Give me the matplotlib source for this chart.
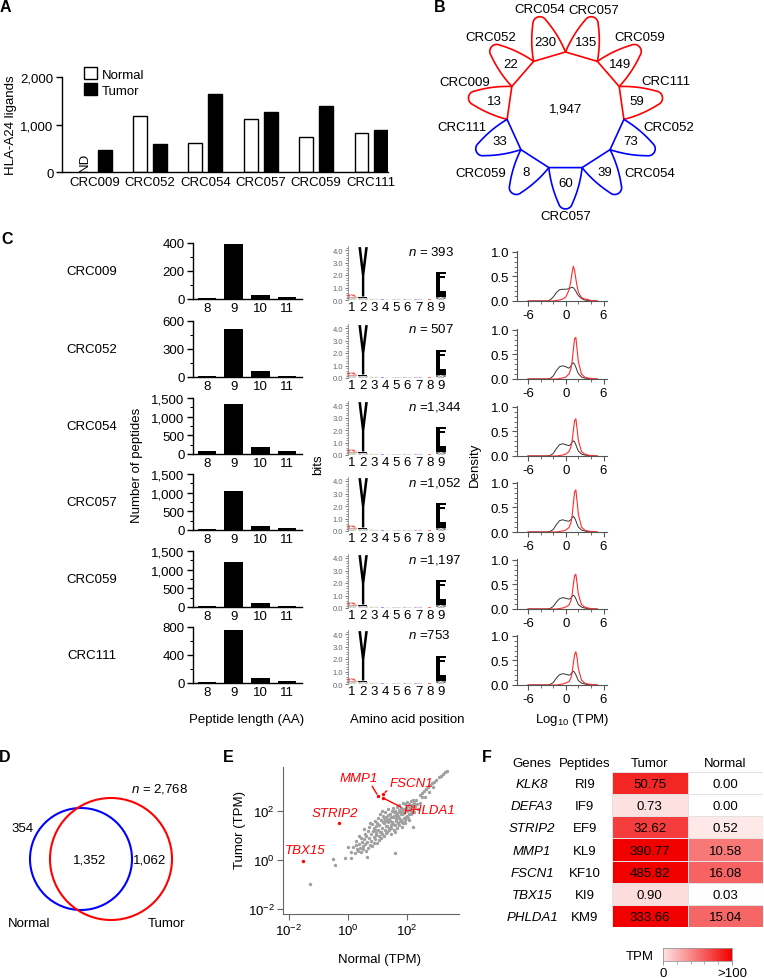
import numpy as np
import matplotlib
matplotlib.use('Agg')
import matplotlib.pyplot as plt
from matplotlib.patches import Circle, PathPatch, Patch, Polygon
from matplotlib.textpath import TextPath
from matplotlib.font_manager import FontProperties
from matplotlib.transforms import Affine2D
from matplotlib.ticker import AutoMinorLocator, FixedLocator, MultipleLocator, NullLocator
from matplotlib.colors import LinearSegmentedColormap, FuncNorm, Normalize

plt.rcParams.update({
    'font.family': ['Liberation Sans', 'DejaVu Sans'],
    'font.size': 9.5,
    'axes.unicode_minus': False,
    'mathtext.fontset': 'custom',
    'mathtext.rm': 'Liberation Sans',
    'mathtext.it': 'Liberation Sans:italic',
    'axes.linewidth': 1.0,
    'xtick.major.width': 1.0, 'ytick.major.width': 1.0,
    'xtick.minor.width': 0.8, 'ytick.minor.width': 0.8,
    'xtick.major.pad': 2, 'ytick.major.pad': 2,
})

# ---------------- data ----------------
samples = ['CRC009', 'CRC052', 'CRC054', 'CRC057', 'CRC059', 'CRC111']
ligands_normal = [np.nan, 1186, 610, 1116, 730, 821]   # CRC009 normal: ND
ligands_tumor = [463, 589, 1642, 1256, 1396, 891]

petal_tumor_names = ['CRC009', 'CRC052', 'CRC054', 'CRC057', 'CRC059', 'CRC111']
petal_tumor_counts = [13, 22, 230, 135, 149, 59]
petal_normal_names = ['CRC052', 'CRC054', 'CRC057', 'CRC059', 'CRC111']
petal_normal_counts = [73, 39, 60, 8, 33]
core_count = '1,947'

pep_lengths = [8, 9, 10, 11]
len_crc009 = [8, 395, 31, 17]
len_crc052 = [11, 510, 61, 11]
len_crc054 = [72, 1350, 180, 90]
len_crc057 = [30, 1052, 110, 50]
len_crc059 = [36, 1197, 116, 36]
len_crc111 = [19, 753, 71, 33]
len_counts = [len_crc009, len_crc052, len_crc054, len_crc057, len_crc059, len_crc111]
len_ymax = [400, 600, 1500, 1500, 1500, 800]
len_yticks = [[0, 200, 400], [0, 300, 600], [0, 500, 1000, 1500],
              [0, 500, 1000, 1500], [0, 500, 1000, 1500], [0, 400, 800]]
len_yticklabels = [['0', '200', '400'], ['0', '300', '600'],
                   ['0', '500', '1,000', '1,500'], ['0', '500', '1,000', '1,500'],
                   ['0', '500', '1,000', '1,500'], ['0', '400', '800']]
n_labels = ['$n$ = 393', '$n$ = 507', '$n$ =1,344', '$n$ =1,052', '$n$ =1,197', '$n$ =753']

# sequence logo stacks (bottom -> top): letter, bits, colour
logo_positions = list(range(1, 10))
logo_stacks = [
    [('A', 0.08, '#bbbbbb'), ('S', 0.1, '#99cc99'), ('I', 0.1, '#ee9999'), ('R', 0.15, '#ee4444')],
    [('W', 0.06, '#aaaaaa'), ('M', 0.08, '#999999'), ('F', 0.14, '#111111'), ('Y', 3.95, '#000000')],
    [('P', 0.03, '#aaaaaa'), ('V', 0.04, '#cccccc'), ('G', 0.03, '#99cc99')],
    [('D', 0.03, '#ff9999'), ('E', 0.04, '#9999ff')],
    [('A', 0.04, '#99cc99'), ('G', 0.04, '#bbbbbb')],
    [('P', 0.05, '#aaaaaa'), ('V', 0.04, '#ccccff')],
    [('R', 0.05, '#9999ff'), ('K', 0.04, '#ff9999')],
    [('T', 0.06, '#ee7777'), ('L', 0.06, '#aaaaaa')],
    [('V', 0.1, '#999999'), ('M', 0.12, '#444444'), ('I', 0.32, '#000000'),
     ('L', 0.85, '#000000'), ('F', 0.85, '#000000')],
]

dens_x = [-6, -3, -2.5, -2, -1.5, -1, -0.5, 0, 0.5, 0.8, 1.0, 1.2, 1.4, 1.6, 1.8, 2.0, 2.5, 3.0, 3.5, 4.0, 5.0]
dens_black = [
    [0, 0, 0.02, 0.08, 0.17, 0.23, 0.24, 0.24, 0.25, 0.27, 0.28, 0.27, 0.24, 0.20, 0.15, 0.11, 0.05, 0.02, 0.01, 0, 0],
    [0, 0, 0.01, 0.06, 0.17, 0.25, 0.27, 0.25, 0.22, 0.26, 0.31, 0.33, 0.30, 0.24, 0.17, 0.11, 0.04, 0.02, 0.01, 0, 0],
    [0, 0, 0.01, 0.05, 0.15, 0.23, 0.25, 0.23, 0.21, 0.24, 0.28, 0.31, 0.29, 0.23, 0.16, 0.10, 0.04, 0.02, 0.01, 0, 0],
    [0, 0, 0.01, 0.05, 0.15, 0.23, 0.25, 0.23, 0.22, 0.25, 0.29, 0.32, 0.29, 0.23, 0.16, 0.10, 0.04, 0.02, 0.01, 0, 0],
    [0, 0, 0.01, 0.05, 0.14, 0.21, 0.23, 0.22, 0.20, 0.22, 0.26, 0.28, 0.26, 0.21, 0.15, 0.09, 0.04, 0.02, 0.01, 0, 0],
    [0, 0, 0.01, 0.05, 0.14, 0.21, 0.23, 0.22, 0.20, 0.22, 0.26, 0.28, 0.26, 0.21, 0.15, 0.09, 0.04, 0.02, 0.01, 0, 0],
]
dens_red = [
    [0, 0, 0, 0, 0.01, 0.02, 0.04, 0.08, 0.22, 0.40, 0.58, 0.71, 0.62, 0.45, 0.30, 0.18, 0.07, 0.04, 0.03, 0.01, 0],
    [0, 0, 0, 0, 0, 0.01, 0.02, 0.04, 0.10, 0.20, 0.35, 0.60, 0.82, 0.85, 0.60, 0.35, 0.10, 0.04, 0.02, 0.01, 0],
    [0, 0, 0, 0, 0, 0.01, 0.02, 0.04, 0.09, 0.18, 0.30, 0.52, 0.72, 0.76, 0.55, 0.32, 0.09, 0.04, 0.02, 0.01, 0],
    [0, 0, 0, 0, 0, 0.01, 0.02, 0.04, 0.09, 0.18, 0.32, 0.58, 0.82, 0.86, 0.62, 0.36, 0.10, 0.04, 0.02, 0.01, 0],
    [0, 0, 0, 0, 0, 0.01, 0.02, 0.04, 0.08, 0.16, 0.28, 0.50, 0.68, 0.71, 0.52, 0.30, 0.09, 0.04, 0.02, 0.01, 0],
    [0, 0, 0, 0, 0, 0.01, 0.02, 0.04, 0.07, 0.14, 0.24, 0.44, 0.62, 0.68, 0.55, 0.33, 0.10, 0.04, 0.02, 0.01, 0],
]

venn_normal_only = '354'
venn_shared = '1,352'
venn_tumor_only = '1,062'
venn_total = '$n$ = 2,768'

# panel E: gray genes as (log10 normal TPM, log10 tumor TPM)
gray_points = [
    (0.12, 0.33), (0.18, 0.52), (0.24, 0.28), (0.27, 0.61), (0.31, 0.44), (0.29, 0.78),
    (0.34, 0.35), (0.37, 0.66), (0.41, 0.50), (0.43, 0.88), (0.46, 0.31), (0.48, 0.74), (0.39, 0.97), (0.50, 0.58),
    (0.52, 0.42), (0.54, 0.83), (0.57, 1.06), (0.59, 0.63), (0.61, 0.36), (0.63, 0.95), (0.66, 0.72),
    (0.68, 1.18), (0.69, 0.50), (0.56, 1.25),
    (0.71, 0.88), (0.73, 1.32), (0.75, 0.61), (0.77, 1.04), (0.79, 0.78), (0.81, 1.45), (0.83, 0.55),
    (0.85, 1.16), (0.87, 0.92), (0.89, 1.28), (0.74, 1.50), (0.88, 0.70),
    (0.91, 1.58), (0.93, 0.83), (0.95, 1.07), (0.97, 1.36), (0.99, 0.68), (1.01, 1.22), (1.03, 1.71),
    (1.05, 0.96), (1.07, 1.43), (1.09, 1.12), (0.92, 1.21), (1.04, 0.80), (1.08, 1.85), (0.96, 1.00), (1.00, 1.50),
    (1.11, 1.62), (1.13, 0.90), (1.15, 1.30), (1.17, 1.05), (1.19, 1.78), (1.21, 1.48), (1.23, 0.98),
    (1.25, 1.20), (1.27, 1.93), (1.29, 1.36), (1.12, 1.15), (1.18, 1.55), (1.24, 1.68), (1.28, 1.08),
    (1.16, 2.00), (1.26, 1.58),
    (1.31, 1.75), (1.33, 1.14), (1.35, 1.52), (1.37, 2.05), (1.39, 1.28), (1.41, 1.66), (1.43, 1.88),
    (1.45, 1.05), (1.47, 1.42), (1.49, 1.97), (1.32, 1.38), (1.36, 1.83), (1.40, 1.22), (1.44, 1.58),
    (1.48, 1.72), (1.34, 1.62), (1.46, 1.30),
    (1.51, 1.55), (1.53, 2.10), (1.55, 1.22), (1.57, 1.80), (1.59, 1.40), (1.61, 2.00), (1.63, 1.65),
    (1.65, 1.30), (1.67, 1.90), (1.69, 1.50), (1.52, 1.75), (1.56, 1.95), (1.60, 1.15), (1.64, 1.82),
    (1.68, 2.15), (1.54, 1.45), (1.62, 1.58), (1.66, 1.72),
    (1.71, 1.78), (1.73, 2.22), (1.75, 1.42), (1.77, 1.95), (1.79, 1.62), (1.81, 2.10), (1.83, 1.35),
    (1.85, 1.85), (1.87, 2.30), (1.89, 1.70), (1.72, 2.02), (1.76, 1.58), (1.80, 1.88), (1.84, 1.55),
    (1.88, 2.05), (1.74, 1.68), (1.82, 1.98), (1.86, 1.48),
    (1.91, 1.92), (1.93, 2.28), (1.95, 1.60), (1.97, 2.12), (1.99, 1.80), (2.01, 2.35), (2.03, 1.70),
    (2.05, 2.02), (2.07, 2.25), (2.09, 1.88), (1.92, 2.05), (1.96, 1.75), (2.00, 1.98), (2.04, 2.18),
    (2.08, 1.62), (1.94, 1.50),
    (2.11, 2.10), (2.13, 2.38), (2.15, 1.85), (2.17, 2.22), (2.19, 2.02), (2.21, 2.42), (2.23, 1.95),
    (2.26, 2.30), (2.29, 2.15), (2.32, 2.45), (2.35, 2.25), (2.38, 2.05), (2.14, 2.00), (2.24, 2.18),
    (2.45, 2.30), (2.50, 2.55), (2.20, 1.35),
    (2.45, 2.62), (2.52, 2.70), (2.58, 2.78), (2.65, 2.88), (2.72, 2.95), (2.78, 3.02), (2.85, 3.10),
    (2.92, 3.18), (3.00, 3.26), (3.08, 3.35), (3.15, 3.42), (3.22, 3.50), (3.30, 3.57), (3.37, 3.62),
    (2.60, 2.55), (2.75, 2.75), (2.90, 2.95),
    (-1.30, -0.99), (-0.44, -0.20), (-0.50, 0.02), (-0.10, 0.07), (0.09, 0.07), (0.66, 0.11),
    (0.01, 0.54), (1.60, 0.27),
]

genes = ['KLK8', 'DEFA3', 'STRIP2', 'MMP1', 'FSCN1', 'TBX15', 'PHLDA1']
peptides = ['RI9', 'IF9', 'EF9', 'KL9', 'KF10', 'KI9', 'KM9']
tpm_tumor = [50.75, 0.73, 32.62, 390.77, 485.82, 0.90, 333.66]
tpm_normal = [0.00, 0.00, 0.52, 10.58, 16.08, 0.03, 15.04]

# ---------------- layout helpers (pixel based) ----------------
W, H = 764, 979
fig = plt.figure(figsize=(W / 100, H / 100), dpi=100)


def add_ax(x0, y0, x1, y1):
    return fig.add_axes([x0 / W, 1 - y1 / H, (x1 - x0) / W, (y1 - y0) / H])


def ftext(x, y, s, **kw):
    kw.setdefault('ha', 'center')
    kw.setdefault('va', 'center')
    fig.text(x / W, 1 - y / H, s, **kw)


for lab, (x, y) in zip('ABCDEF', [(5, 8), (440, 8), (7, 240), (5, 758), (228, 758), (487, 757)]):
    ftext(x, y, lab, fontsize=11.5, fontweight='bold')

# ---------------- A ----------------
axA = add_ax(62, 78, 388, 173)
xa = np.arange(len(samples))
nrm = np.array(ligands_normal, dtype=float)
ok = ~np.isnan(nrm)
axA.bar(xa[ok] - 0.18, nrm[ok], 0.25, color='white', edgecolor='black', linewidth=1.0)
axA.bar(xa + 0.18, ligands_tumor, 0.25, color='black', edgecolor='black', linewidth=1.0)
axA.text(-0.18, 30, 'ND', rotation=90, ha='center', va='bottom', fontsize=9.5)
axA.set_xlim(-0.59, 5.3)
axA.set_ylim(0, 2000)
axA.set_yticks([0, 1000, 2000])
axA.set_yticklabels(['0', '1,000', '2,000'])
axA.set_xticks(xa)
axA.set_xticklabels(samples)
axA.tick_params(axis='x', length=0, pad=3)
axA.tick_params(axis='y', length=4)
for s in ('top', 'right'):
    axA.spines[s].set_visible(False)
axA.legend(handles=[Patch(facecolor='white', edgecolor='black', label='Normal'),
                    Patch(facecolor='black', edgecolor='black', label='Tumor')],
           loc='upper left', bbox_to_anchor=(0.05, 1.16), frameon=False,
           handlelength=1.0, handleheight=1.0, handletextpad=0.4, labelspacing=0.2,
           borderaxespad=0, fontsize=9.5)
ftext(11, 125, 'HLA-A24 ligands', rotation=90)

# ---------------- B (flower) ----------------
cx, cy = 565.5, 112
axB = add_ax(425, 0, 705, 232)
axB.set_xlim(425 - cx, 705 - cx)
axB.set_ylim(cy - 232, cy)
axB.axis('off')
R_POLY, R_TIP, R_NUM, R_LAB = 59.0, 98.0, 72.0, 105.0
petal_names = petal_tumor_names + petal_normal_names
petal_counts = petal_tumor_counts + petal_normal_counts
petal_colors = ['#ff0000'] * len(petal_tumor_names) + ['#0000ff'] * len(petal_normal_names)
n_pet = len(petal_names)
half = np.pi / n_pet
label_shift = [-8, -4, -2, 1, 4, 8.6, 15.7, 21, 0, -21, -16]


def petal_outline(hw, base, r_tip, r_round=7.0, bulge=3.0):
    """Rounded triangle on a polygon edge, in (tangent, radial) coordinates."""
    tp = r_tip
    for _ in range(6):
        beta = np.arctan(hw / (tp - base))
        tp = r_tip + r_round * (1 / np.sin(beta) - 1)
    beta = np.arctan(hw / (tp - base))
    a, bb, tv = np.array([-hw, base]), np.array([hw, base]), np.array([0.0, tp])
    c = np.array([0.0, tp - r_round / np.sin(beta)])
    dist = r_round / np.tan(beta)
    sa = (a - tv) / np.linalg.norm(a - tv)
    sb = (bb - tv) / np.linalg.norm(bb - tv)
    p1, p2 = tv + sa * dist, tv + sb * dist
    t = np.linspace(0, 1, 30)[:, None]
    na = np.array([sa[1], -sa[0]])
    na = -na if na[0] > 0 else na
    nb = np.array([sb[1], -sb[0]])
    nb = -nb if nb[0] < 0 else nb
    ca = (a + p1) / 2 + bulge * na
    cb = (bb + p2) / 2 + bulge * nb
    side_a = (1 - t) ** 2 * a + 2 * (1 - t) * t * ca + t ** 2 * p1
    a1 = np.arctan2(p1[1] - c[1], p1[0] - c[0])
    a2 = np.arctan2(p2[1] - c[1], p2[0] - c[0])
    ang = np.linspace(a1, a2, 30)
    arc = c + r_round * np.column_stack([np.cos(ang), np.sin(ang)])
    side_b = (1 - t) ** 2 * p2 + 2 * (1 - t) * t * cb + t ** 2 * bb
    return np.vstack([side_a, arc, side_b])


local = petal_outline(R_POLY * np.sin(half), R_POLY * np.cos(half), R_TIP)
for k in range(n_pet):
    th = np.deg2rad(171.8) - k * 2 * half
    er = np.array([np.cos(th), np.sin(th)])
    et = np.array([np.sin(th), -np.cos(th)])
    verts = local[:, :1] * et + local[:, 1:] * er
    axB.add_patch(Polygon(verts, closed=True, fill=False, edgecolor=petal_colors[k],
                          linewidth=1.2, joinstyle='round'))
    axB.text(R_NUM * er[0], R_NUM * er[1], str(petal_counts[k]), ha='center', va='center')
    tl = th + np.deg2rad(label_shift[k])
    axB.text(R_LAB * np.cos(tl), R_LAB * np.sin(tl), petal_names[k], ha='center', va='center')
axB.text(0, 3, core_count, ha='center', va='center')

# ---------------- C ----------------
row_base = [300, 378, 455, 531, 608, 684]
LOGO_FONT = FontProperties(family='DejaVu Sans', weight='bold')


def draw_letter(ax, letter, x, y0, hgt, color, w=0.85):
    tp = TextPath((0, 0), letter, size=1, prop=LOGO_FONT)
    bb = tp.get_extents()
    tr = (Affine2D().translate(-bb.x0, -bb.y0)
          .scale(w / bb.width, hgt / bb.height).translate(x - w / 2, y0))
    ax.add_patch(PathPatch(tr.transform_path(tp), facecolor=color, linewidth=0, clip_on=False))


for i, name in enumerate(samples):
    b = row_base[i]
    ftext(92, b - 28, name)

    # peptide length bars
    ax = add_ax(193, b - 56, 302, b)
    ax.bar(pep_lengths, len_counts[i], 0.7, color='black')
    ax.set_xlim(7.48, 11.56)
    ax.set_ylim(0, len_ymax[i])
    ax.set_xticks(pep_lengths)
    ax.set_yticks(len_yticks[i])
    ax.set_yticklabels(len_yticklabels[i])
    ax.yaxis.set_minor_locator(AutoMinorLocator(2))
    ax.tick_params(axis='x', length=0, pad=2)
    ax.tick_params(axis='y', which='major', length=4)
    ax.tick_params(axis='y', which='minor', length=2.5)
    for s in ('top', 'right'):
        ax.spines[s].set_visible(False)

    # sequence logo
    axl = add_ax(348, b + 1 - 53.75, 448, b + 1)
    axl.set_xlim(0.64, 9.64)
    axl.set_ylim(0, 4.3)
    for pos, stack in zip(logo_positions, logo_stacks):
        y0 = 0.0
        for letter, bits, col in stack:
            draw_letter(axl, letter, pos, y0, bits, col)
            y0 += bits
    axl.set_xticks(logo_positions)
    axl.tick_params(axis='x', length=0, pad=1, labelsize=9.5)
    axl.set_yticks([0, 1, 2, 3, 4])
    axl.set_yticklabels(['0.0', '1.0', '2.0', '3.0', '4.0'])
    axl.yaxis.set_minor_locator(AutoMinorLocator(5))
    axl.tick_params(axis='y', which='major', length=2.5, width=0.6, labelsize=5.5,
                    colors='#666666', pad=1)
    axl.tick_params(axis='y', which='minor', length=1.5, width=0.5, colors='#666666')
    for s in ('top', 'right', 'bottom'):
        axl.spines[s].set_visible(False)
    axl.spines['left'].set_color('#888888')
    axl.spines['left'].set_linewidth(0.6)
    axl.set_facecolor('none')
    ftext(408, b - 48, n_labels[i], ha='left')

    # density
    axd = add_ax(516.7, b + 2 - 50, 607, b + 2)
    axd.plot(dens_x, dens_black[i], color='#333333', linewidth=0.7)
    axd.plot(dens_x, dens_red[i], color='#ff2a2a', linewidth=0.8)
    axd.set_xlim(-7.8, 6.55)
    axd.set_ylim(0, 1.02)
    axd.set_xticks([-6, 0, 6])
    axd.xaxis.set_minor_locator(MultipleLocator(2))
    axd.set_yticks([0, 0.5, 1.0])
    axd.set_yticklabels(['0.0', '0.5', '1.0'])
    axd.yaxis.set_minor_locator(MultipleLocator(0.1))
    axd.tick_params(which='major', length=3.5, width=0.8, color='#555555')
    axd.tick_params(which='minor', length=2.5, width=0.6, color='#555555')
    for s in ('top', 'right'):
        axd.spines[s].set_visible(False)
    for s in ('left', 'bottom'):
        axd.spines[s].set_color('#555555')
        axd.spines[s].set_linewidth(0.8)

ftext(137, 465, 'Number of peptides', rotation=90)
ftext(318, 465, 'bits', rotation=90)
ftext(475, 465, 'Density', rotation=90)
ftext(247, 720, 'Peptide length (AA)')
ftext(407, 720, 'Amino acid position')
ftext(572, 720, r'Log$_{\mathregular{10}}$ (TPM)')

# ---------------- D (Venn) ----------------
axD = add_ax(0, 770, 200, 945)
axD.set_xlim(0, 200)
axD.set_ylim(175, 0)
axD.axis('off')
axD.add_patch(Circle((81, 90), 51, fill=False, edgecolor='#0000ff', linewidth=1.5))
axD.add_patch(Circle((111, 90), 61, fill=False, edgecolor='#ff0000', linewidth=1.5))
axD.text(23, 59, venn_normal_only, ha='center', va='center')
axD.text(90, 91, venn_shared, ha='center', va='center')
axD.text(150, 91, venn_tumor_only, ha='center', va='center')
axD.text(160, 19, venn_total, ha='center', va='center')
axD.text(29, 154, 'Normal', ha='center', va='center')
axD.text(166, 154, 'Tumor', ha='center', va='center')

# ---------------- E (scatter) ----------------
axE = add_ax(283, 768, 459, 915)
gp = np.array(gray_points)
axE.scatter(10 ** gp[:, 0], 10 ** gp[:, 1], s=6, color='#a0a0a0', linewidths=0, zorder=2)
label_offsets = {'MMP1': (-19, 18.5, (0.8, 0)), 'FSCN1': (28, 11, (0.0, 0)),
                 'PHLDA1': (47, -12, (0.0, 0.6)), 'STRIP2': (-5, 10, None),
                 'TBX15': (2, 11, None)}
for g, tt, nn in zip(genes, tpm_tumor, tpm_normal):
    if nn <= 0:
        continue
    axE.scatter([nn], [tt], s=6, color='#ff0000', linewidths=0, zorder=3)
    dx, dy, rel = label_offsets[g]
    if rel is None:
        axE.annotate(g, (nn, tt), xytext=(dx, dy), textcoords='offset pixels',
                     ha='center', va='center', color='#ff0000', style='italic')
    else:
        axE.annotate(g, (nn, tt), xytext=(dx, dy), textcoords='offset pixels',
                     ha='center', va='center', color='#ff0000', style='italic',
                     arrowprops=dict(arrowstyle='-', color='#ff0000', lw=1.0,
                                     relpos=rel, shrinkA=0, shrinkB=1.5))
axE.set_xscale('log')
axE.set_yscale('log')
axE.set_xlim(10 ** -2.2, 10 ** 3.77)
axE.set_ylim(10 ** -2.2, 10 ** 3.77)
for axis in (axE.xaxis, axE.yaxis):
    axis.set_major_locator(FixedLocator([1e-2, 1, 1e2]))
    axis.set_minor_locator(NullLocator())
axE.tick_params(length=4, width=0.8, color='#666666')
for s in ('top', 'right'):
    axE.spines[s].set_visible(False)
for s in ('left', 'bottom'):
    axE.spines[s].set_color('#666666')
    axE.spines[s].set_linewidth(0.8)
ftext(240, 830, 'Tumor (TPM)', rotation=90)
ftext(380, 960, 'Normal (TPM)')

# ---------------- F (table heatmap) ----------------
cmap = LinearSegmentedColormap.from_list('wr', ['#ffffff', '#f20000'])
norm = FuncNorm((lambda v: np.log10(1 + np.clip(v, 0, None)), lambda v: 10 ** v - 1), vmin=0, vmax=100)
axF = add_ax(612, 773, 763, 928)
vals = np.column_stack([tpm_tumor, tpm_normal])
axF.pcolormesh(np.arange(3), np.arange(len(genes) + 1), vals, cmap=cmap, norm=norm,
               edgecolors='#e2e2e2', linewidth=0.6)
axF.set_xlim(0, 2)
axF.set_ylim(len(genes), 0)
axF.axis('off')
for r in range(len(genes)):
    for c in range(2):
        axF.text(c + 0.5, r + 0.55, f'{vals[r, c]:.2f}', ha='center', va='center', clip_on=False)
    axF.text(-1.06, r + 0.55, genes[r], ha='center', va='center', style='italic', clip_on=False)
    axF.text(-0.36, r + 0.55, peptides[r], ha='center', va='center', clip_on=False)
for xh, lab in zip([-1.06, -0.36, 0.5, 1.5], ['Genes', 'Peptides', 'Tumor', 'Normal']):
    axF.text(xh, -0.4, lab, ha='center', va='center', clip_on=False)

axC = add_ax(663, 949, 732, 962)
cb_cmap = LinearSegmentedColormap.from_list('pr', ['#ffe4e4', '#f20000'])
axC.imshow(np.linspace(0, 100, 256)[None, :], cmap=cb_cmap, norm=Normalize(0, 100),
           aspect='auto', extent=(0, 100, 0, 1))
axC.set_xticks([0, 100])
axC.set_xticklabels(['0', '>100'])
axC.xaxis.set_minor_locator(FixedLocator([20, 40, 60, 80]))
axC.set_yticks([])
axC.tick_params(axis='x', which='major', length=3, width=0.6, color='#888888', pad=1)
axC.tick_params(axis='x', which='minor', length=2, width=0.5, color='#888888')
for s in axC.spines.values():
    s.set_color('#999999')
    s.set_linewidth(0.6)
ftext(640, 957, 'TPM')

fig.savefig('out.png', dpi=100)
